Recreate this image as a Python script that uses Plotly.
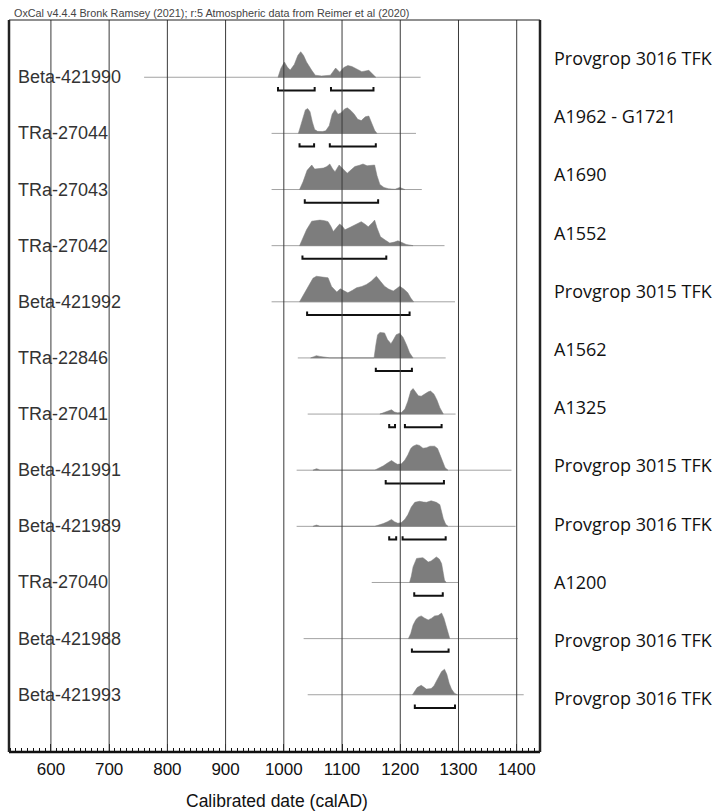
import plotly.graph_objects as go

# OxCal multi-plot: calibrated radiocarbon dates, one row per sample
sample_names = [
    "Beta-421990", "TRa-27044", "TRa-27043", "TRa-27042", "Beta-421992", "TRa-22846",
    "TRa-27041", "Beta-421991", "Beta-421989", "TRa-27040", "Beta-421988", "Beta-421993",
]
context_labels = [
    "Provgrop 3016 TFK", "A1962 - G1721", "A1690", "A1552", "Provgrop 3015 TFK", "A1562",
    "A1325", "Provgrop 3015 TFK", "Provgrop 3016 TFK", "A1200", "Provgrop 3016 TFK", "Provgrop 3016 TFK",
]

# extent of the grey baseline for each sample (calAD)
span_start = [760, 979, 979, 979, 979, 1024, 1041, 1022, 1022, 1151, 1034, 1041]
span_end = [1235, 1227, 1237, 1276, 1294, 1278, 1295, 1391, 1398, 1300, 1402, 1412]

# posterior probability densities (relative to each sample's peak)
density_years = [
    [990, 995, 1001, 1006, 1011, 1018, 1024, 1029, 1034, 1039, 1048, 1054, 1065, 1080, 1089, 1096, 1103, 1110, 1117, 1124, 1134, 1146, 1152, 1158],
    [1025, 1031, 1037, 1041, 1045, 1049, 1053, 1058, 1066, 1072, 1078, 1083, 1088, 1093, 1098, 1104, 1109, 1115, 1121, 1127, 1133, 1140, 1146, 1151, 1156, 1160],
    [1027, 1033, 1040, 1048, 1053, 1060, 1068, 1074, 1079, 1084, 1088, 1095, 1102, 1109, 1116, 1122, 1130, 1136, 1143, 1148, 1156, 1160, 1165, 1172, 1180, 1191, 1199, 1208],
    [1027, 1033, 1039, 1048, 1055, 1062, 1070, 1076, 1081, 1085, 1091, 1096, 1101, 1105, 1114, 1122, 1133, 1139, 1145, 1152, 1156, 1160, 1166, 1174, 1182, 1190, 1196, 1203, 1210, 1222],
    [1027, 1035, 1042, 1050, 1056, 1066, 1076, 1082, 1091, 1097, 1104, 1110, 1118, 1125, 1134, 1142, 1150, 1159, 1166, 1173, 1180, 1188, 1194, 1199, 1206, 1213, 1218, 1223],
    [1046, 1052, 1056, 1062, 1068, 1074, 1079, 1155, 1158, 1161, 1165, 1173, 1178, 1184, 1188, 1193, 1199, 1205, 1211, 1216, 1222],
    [1165, 1172, 1180, 1185, 1190, 1195, 1202, 1208, 1213, 1218, 1222, 1226, 1231, 1236, 1242, 1248, 1252, 1258, 1263, 1268, 1274],
    [1050, 1053, 1056, 1059, 1062, 1156, 1164, 1171, 1178, 1185, 1190, 1195, 1202, 1208, 1213, 1218, 1222, 1228, 1233, 1239, 1245, 1251, 1259, 1264, 1268, 1272, 1277, 1282],
    [1050, 1053, 1056, 1059, 1062, 1156, 1164, 1171, 1178, 1185, 1190, 1196, 1202, 1208, 1213, 1219, 1225, 1233, 1240, 1245, 1253, 1262, 1268, 1271, 1274, 1278, 1282],
    [1216, 1219, 1222, 1228, 1234, 1239, 1244, 1248, 1253, 1258, 1262, 1267, 1271, 1274, 1276, 1279],
    [1214, 1218, 1222, 1227, 1231, 1236, 1242, 1248, 1254, 1259, 1265, 1271, 1275, 1279, 1282, 1285],
    [1221, 1225, 1229, 1236, 1241, 1245, 1253, 1258, 1262, 1267, 1271, 1276, 1280, 1284, 1288, 1293, 1298],
]
density_values = [
    [0, 0.35, 0.6, 0.4, 0.28, 0.5, 0.85, 1.0, 0.85, 0.6, 0.27, 0.08, 0.05, 0.08, 0.36, 0.2, 0.38, 0.46, 0.42, 0.33, 0.22, 0.27, 0.12, 0],
    [0, 0.45, 0.92, 0.97, 0.85, 0.45, 0.15, 0.08, 0.07, 0.1, 0.3, 0.75, 0.93, 0.75, 0.8, 0.95, 1.0, 0.9, 0.75, 0.55, 0.5, 0.65, 0.68, 0.4, 0.12, 0],
    [0, 0.3, 0.75, 0.96, 0.8, 0.82, 0.84, 0.9, 1.0, 0.8, 0.7, 0.96, 0.8, 0.64, 0.78, 0.9, 0.95, 1.0, 0.93, 0.94, 0.96, 0.55, 0.2, 0.08, 0.03, 0.01, 0.08, 0],
    [0, 0.3, 0.62, 0.96, 0.97, 1.0, 0.98, 0.94, 0.75, 0.55, 0.72, 0.85, 0.75, 0.62, 0.72, 0.81, 0.94, 0.85, 0.74, 0.9, 1.0, 0.7, 0.35, 0.22, 0.1, 0.14, 0.19, 0.12, 0.05, 0],
    [0, 0.3, 0.61, 0.92, 1.0, 0.98, 0.94, 0.6, 0.38, 0.51, 0.42, 0.35, 0.45, 0.55, 0.6, 0.68, 0.8, 1.0, 0.8, 0.61, 0.5, 0.42, 0.52, 0.61, 0.5, 0.35, 0.15, 0],
    [0, 0.06, 0.09, 0.06, 0.05, 0.02, 0, 0, 0.5, 0.9, 1.0, 0.98, 0.72, 0.56, 0.7, 0.91, 0.97, 0.8, 0.5, 0.2, 0],
    [0, 0.06, 0.12, 0.17, 0.08, 0.05, 0.06, 0.2, 0.5, 0.9, 1.0, 0.88, 0.72, 0.7, 0.8, 0.87, 0.9, 0.78, 0.55, 0.25, 0],
    [0, 0.04, 0.06, 0.04, 0, 0, 0.08, 0.17, 0.28, 0.38, 0.3, 0.23, 0.25, 0.4, 0.6, 0.85, 0.94, 1.0, 0.97, 0.86, 0.88, 0.94, 0.94, 0.85, 0.62, 0.35, 0.1, 0],
    [0, 0.03, 0.05, 0.03, 0, 0, 0.05, 0.11, 0.18, 0.27, 0.18, 0.12, 0.15, 0.28, 0.45, 0.76, 0.94, 0.98, 0.95, 0.94, 1.0, 0.94, 0.85, 0.6, 0.3, 0.08, 0],
    [0, 0.25, 0.61, 0.94, 0.96, 0.97, 0.88, 0.8, 0.84, 0.95, 1.0, 0.92, 0.74, 0.35, 0.09, 0],
    [0, 0.2, 0.53, 0.75, 0.84, 0.89, 0.8, 0.73, 0.8, 0.89, 0.9, 1.0, 0.8, 0.47, 0.15, 0],
    [0, 0.15, 0.28, 0.37, 0.3, 0.22, 0.24, 0.35, 0.53, 0.72, 0.91, 1.0, 0.8, 0.45, 0.22, 0.06, 0],
]

# 95.4% highest posterior density ranges (calAD)
hpd_ranges = [
    [(990, 1053), (1081, 1154)],
    [(1027, 1052), (1079, 1158)],
    [(1036, 1162)],
    [(1032, 1176)],
    [(1040, 1216)],
    [(1158, 1220)],
    [(1181, 1191), (1208, 1271)],
    [(1175, 1275)],
    [(1181, 1193), (1204, 1278)],
    [(1224, 1273)],
    [(1220, 1283)],
    [(1225, 1294)],
]

year_ticks = list(range(600, 1401, 100))
x_range = [528, 1440]

ARIAL = "Liberation Sans, Arial, sans-serif"
PEAK = 0.455      # height of a density peak, in row units
BRK = 0.235       # offset of the range bracket below the baseline
BRK_TICK = 0.06   # upturned ends of the bracket

fig = go.Figure()

for i in range(len(sample_names)):
    fig.add_trace(go.Scatter(
        x=[span_start[i], span_end[i]], y=[i, i], mode="lines",
        line=dict(color="#a3a3a3", width=1), hoverinfo="skip", showlegend=False))
    xs = density_years[i]
    ps = density_values[i]
    fig.add_trace(go.Scatter(
        x=xs + [xs[-1], xs[0]], y=[i - PEAK * p for p in ps] + [i, i],
        mode="lines", fill="toself", fillcolor="#7d7d7d",
        line=dict(color="#7d7d7d", width=0.5), name=sample_names[i], showlegend=False))
    for lo, hi in hpd_ranges[i]:
        yb = i + BRK
        fig.add_trace(go.Scatter(
            x=[lo, lo, hi, hi], y=[yb - BRK_TICK, yb, yb, yb - BRK_TICK], mode="lines",
            line=dict(color="#111111", width=2), hoverinfo="skip", showlegend=False))

shapes = []
for v in year_ticks:
    shapes.append(dict(type="line", xref="x", yref="paper", x0=v, x1=v, y0=0, y1=1,
                       line=dict(color="#3a3a3a", width=1), layer="above"))
# frame
shapes.append(dict(type="line", xref="paper", yref="paper", x0=0, x1=1, y0=1, y1=1,
                   line=dict(color="#222", width=1.2), layer="above"))
shapes.append(dict(type="line", xref="paper", yref="paper", x0=0, x1=1, y0=0, y1=0,
                   line=dict(color="#111", width=2.5), layer="above"))
shapes.append(dict(type="line", xref="paper", yref="paper", x0=0, x1=0, y0=0, y1=1,
                   line=dict(color="#222", width=2.5), layer="above"))
shapes.append(dict(type="line", xref="paper", yref="paper", x0=1, x1=1, y0=0, y1=1,
                   line=dict(color="#222", width=2.5), layer="above"))

annotations = []
for i, name in enumerate(sample_names):
    annotations.append(dict(text=name, xref="paper", yref="y", x=0.013, y=i,
                            xanchor="left", yanchor="middle", showarrow=False,
                            font=dict(family=ARIAL, size=18, color="#333")))
for i, lab in enumerate(context_labels):
    ypx = 58 + 58.2 * i
    annotations.append(dict(text=lab, xref="paper", yref="paper", x=1.0226,
                            y=(752 - ypx) / 732, xanchor="left", yanchor="middle",
                            showarrow=False,
                            font=dict(family="Open Sans, Noto Sans, sans-serif", size=18, color="#111")))
annotations.append(dict(
    text="OxCal v4.4.4 Bronk Ramsey (2021); r:5 Atmospheric data from Reimer et al (2020)",
    xref="paper", yref="paper", x=0.005, y=1.0096, xanchor="left", yanchor="middle",
    showarrow=False, font=dict(family=ARIAL, size=10.8, color="#444")))
annotations.append(dict(
    text="Calibrated date (calAD)", xref="paper", yref="paper", x=0.505, y=-0.067,
    xanchor="center", yanchor="middle", showarrow=False,
    font=dict(family=ARIAL, size=17.5, color="#111")))

fig.update_layout(
    width=717, height=812,
    margin=dict(l=9, r=177, t=20, b=60),
    paper_bgcolor="white", plot_bgcolor="white",
    shapes=shapes, annotations=annotations,
    xaxis=dict(
        range=x_range, tickmode="linear", tick0=0, dtick=100,
        ticks="inside", ticklen=8, tickwidth=1, tickcolor="#111",
        minor=dict(dtick=10, tick0=0, ticks="inside", ticklen=4, tickwidth=1,
                   tickcolor="#111", showgrid=False),
        showgrid=False, zeroline=False, showline=False,
        tickfont=dict(family=ARIAL, size=17, color="#111"),
        ticklabelstandoff=5,
    ),
    yaxis=dict(range=[12.02, -1.02], visible=False, showgrid=False, zeroline=False),
)

fig.write_html("out.html")
